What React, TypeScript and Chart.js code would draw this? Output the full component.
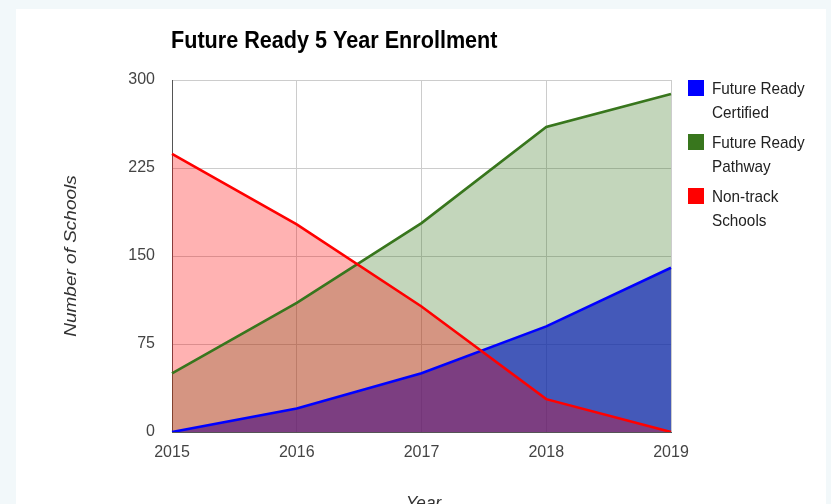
import React, { useEffect, useRef } from "react";
import { Chart, registerables } from "chart.js";

Chart.register(...registerables);

// ---- data ----
const years = ["2015", "2016", "2017", "2018", "2019"];
const certified = [0, 20, 50, 90, 140];
const pathway = [50, 110, 178, 260, 288];
const nonTrack = [237, 177, 107, 28, 0];
const seriesLabels = ["Future Ready Certified", "Future Ready Pathway", "Non-track Schools"];
const yTicks = [0, 75, 150, 225, 300];
const titleText = "Future Ready 5 Year Enrollment";
const yTitleText = "Number of Schools";
const xTitleText = "Year";

// ---- style ----
const W = 831;
const H = 504;
const FONT = '"Liberation Sans", Arial, sans-serif';
const SX = 0.9;

function drawText(
  ctx: CanvasRenderingContext2D,
  text: string,
  x: number,
  y: number,
  font: string,
  color: string,
  align: CanvasTextAlign,
  baseline: CanvasTextBaseline
) {
  ctx.save();
  ctx.translate(x, y);
  ctx.scale(SX, 1);
  ctx.font = font;
  ctx.fillStyle = color;
  ctx.textAlign = align;
  ctx.textBaseline = baseline;
  ctx.fillText(text, 0, 0);
  ctx.restore();
}

function wrap(ctx: CanvasRenderingContext2D, text: string, font: string, maxW: number): string[] {
  ctx.save();
  ctx.font = font;
  const words = text.split(" ");
  const lines: string[] = [];
  let cur = "";
  for (const w of words) {
    const test = cur ? cur + " " + w : w;
    if (cur && ctx.measureText(test).width * SX > maxW) {
      lines.push(cur);
      cur = w;
    } else {
      cur = test;
    }
  }
  if (cur) lines.push(cur);
  ctx.restore();
  return lines;
}

const decor = {
  id: "decor",
  beforeDraw(chart: any) {
    const ctx: CanvasRenderingContext2D = chart.ctx;
    ctx.save();
    ctx.fillStyle = "#f2f8fa";
    ctx.fillRect(0, 0, W, H);
    ctx.fillStyle = "#ffffff";
    ctx.fillRect(16, 9, 810, H - 9);
    ctx.restore();
  },
  afterDraw(chart: any) {
    const ctx: CanvasRenderingContext2D = chart.ctx;
    const a = chart.chartArea;
    // title
    drawText(ctx, titleText, a.left - 1, 48, `bold 24px ${FONT}`, "#000000", "left", "alphabetic");
    // y axis title
    ctx.save();
    ctx.translate(71, (a.top + a.bottom) / 2);
    ctx.rotate(-Math.PI / 2);
    ctx.scale(1, SX);
    ctx.font = `italic 19px ${FONT}`;
    ctx.fillStyle = "#333333";
    ctx.textAlign = "center";
    ctx.textBaseline = "middle";
    ctx.fillText(yTitleText, 0, 0);
    ctx.restore();
    // x axis title
    drawText(ctx, xTitleText, (a.left + a.right) / 2 + 2, 509, `italic 19px ${FONT}`, "#333333", "center", "alphabetic");
    // legend
    const lf = `17px ${FONT}`;
    const x0 = a.right + 17;
    let yc = 89;
    chart.data.datasets.forEach((ds: any) => {
      const lines = wrap(ctx, ds.label, lf, 108);
      ctx.save();
      ctx.fillStyle = ds.borderColor;
      ctx.fillRect(x0, yc - 9, 16, 16);
      ctx.restore();
      lines.forEach((ln, j) => {
        drawText(ctx, ln, x0 + 24, yc + j * 24.5, lf, "#222222", "left", "middle");
      });
      yc += 54;
    });
  },
};

export default function App() {
  const ref = useRef<HTMLCanvasElement | null>(null);
  useEffect(() => {
    if (!ref.current) return;
    const chart = new Chart(ref.current, {
      type: "line",
      data: {
        labels: years,
        datasets: [
          {
            label: seriesLabels[0],
            data: certified,
            borderColor: "#0000ff",
            backgroundColor: "rgba(14,35,184,0.7)",
            fill: "origin",
            order: 2,
          },
          {
            label: seriesLabels[1],
            data: pathway,
            borderColor: "#38761d",
            backgroundColor: "rgba(56,118,29,0.3)",
            fill: "origin",
            order: 3,
          },
          {
            label: seriesLabels[2],
            data: nonTrack,
            borderColor: "#ff0000",
            backgroundColor: "rgba(255,0,0,0.3)",
            fill: "origin",
            order: 1,
          },
        ],
      },
      options: {
        responsive: false,
        animation: false,
        devicePixelRatio: 1,
        layout: { padding: { left: 0, right: W - 671, top: 80, bottom: 0 } },
        elements: {
          line: { borderWidth: 2.6, tension: 0 },
          point: { radius: 0, hoverRadius: 0 },
        },
        plugins: {
          legend: { display: false },
          title: { display: false },
          tooltip: { enabled: false },
          filler: { drawTime: "beforeDatasetsDraw" },
        } as any,
        scales: {
          x: {
            grid: { color: "#cccccc", drawTicks: false },
            border: { color: "#555555", width: 1 },
            ticks: {
              font: { family: FONT, size: 16 },
              color: "#444444",
              padding: 11,
              maxRotation: 0,
              autoSkip: false,
            },
            afterFit: (s: any) => {
              s.height = 72;
            },
          },
          y: {
            min: 0,
            max: 300,
            grid: { color: "#cccccc", drawTicks: false },
            border: { color: "#555555", width: 1 },
            ticks: {
              font: { family: FONT, size: 16 },
              color: "#444444",
              padding: 17,
            },
            afterBuildTicks: (s: any) => {
              s.ticks = yTicks.map((v) => ({ value: v }));
            },
            afterFit: (s: any) => {
              s.width = 172;
            },
          },
        },
      },
      plugins: [decor],
    });
    return () => chart.destroy();
  }, []);
  return (
    <div style={{ position: "fixed", left: 0, top: 0, width: W, height: H }}>
      <canvas ref={ref} width={W} height={H} style={{ display: "block", width: W, height: H }} />
    </div>
  );
}
